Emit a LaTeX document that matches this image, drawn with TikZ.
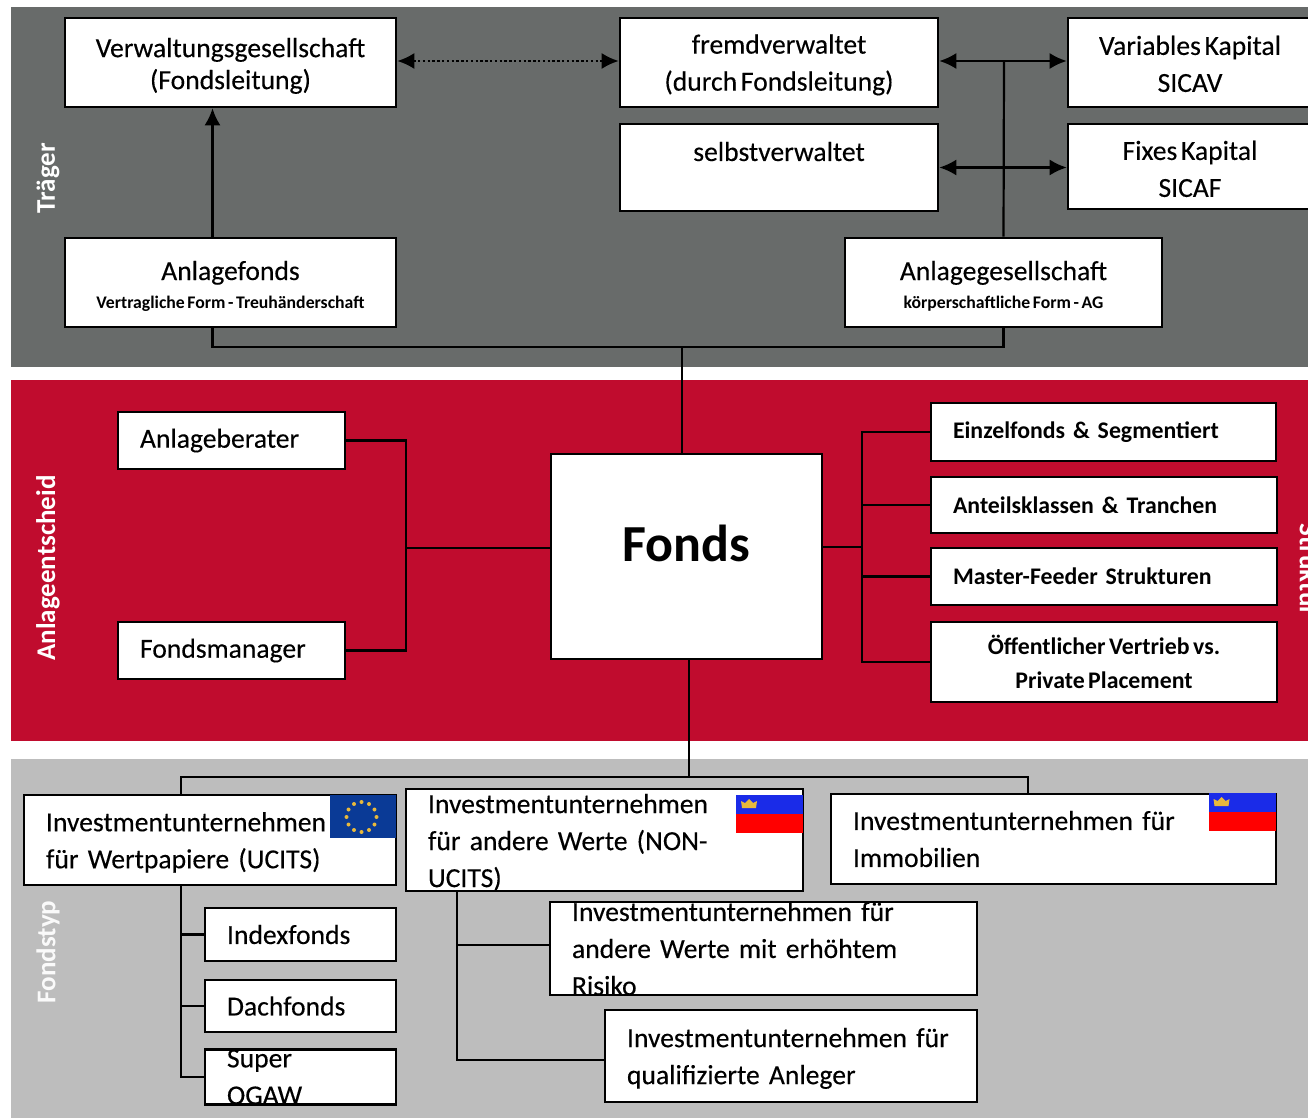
\documentclass[tikz,border=0pt]{standalone}
\usepackage{fontspec}
\setmainfont[WordSpace=0.65]{Carlito}
\newfontfamily\boxfont[WordSpace=0.6,FakeBold=0.25]{Carlito}
\usetikzlibrary{arrows.meta}
\definecolor{traegergrey}{HTML}{686B6A}
\definecolor{anlagered}{HTML}{C00C2E}
\definecolor{fondsgrey}{HTML}{BDBDBD}
\definecolor{eublue}{HTML}{0A3A96}
\definecolor{fluxgold}{HTML}{E8B93C}
\definecolor{liblue}{HTML}{1A2BE8}
\tikzset{
  bandlabel/.style={text=white, font=\fontsize{27}{27}\selectfont\bfseries},
  boxnode/.style={draw=black, fill=white, line width=2.6pt, inner sep=0pt, align=center, font=\boxfont\fontsize{27.6}{37}\selectfont},
  textleft/.style={align=left, inner xsep=22pt},
  boldbox/.style={font=\rmfamily\fontsize{23.8}{34}\selectfont\bfseries},
  link/.style={line width=2.2pt, black},
  twoway/.style={link, {Latex[length=17pt,width=16pt]}-{Latex[length=17pt,width=16pt]}},
  oneway/.style={link, -{Latex[length=17pt,width=16pt]}},
  dotlink/.style={twoway, dash pattern=on 2.4pt off 2.4pt}
}
\newcommand{\subline}[1]{{\rmfamily\fontsize{17.7}{28}\selectfont\bfseries #1}}
\newcommand{\pushdown}[1]{\rule{0pt}{#1pt}}
\newcommand{\liflag}[1]{%
  \begin{scope}[shift={(#1)}]
    \fill [liblue] (0,0) rectangle (67,19);
    \fill [red] (0,19) rectangle (67,38);
    \fill [fluxgold] (6,13) -- (5,6) -- (9,8) -- (13,4) -- (17,8) -- (21,6) -- (20,13) -- cycle;
  \end{scope}}
\begin{document}
\begin{tikzpicture}[x=1pt,y=-1pt]
  \useasboundingbox (0,0) rectangle (1308,1118);
  \clip (0,0) rectangle (1308,1118);

  % Background bands
  \fill [traegergrey] (11,7) rectangle (1308,367);
  \fill [anlagered] (11,380) rectangle (1308,741);
  \fill [fondsgrey] (11,759) rectangle (1308,1118);

  % Band labels
  \node [bandlabel, rotate=90] (traeger) at (48,178) {Träger};
  \node [bandlabel, rotate=90] (entscheid) at (48,568) {Anlageentscheid};
  \node [bandlabel, rotate=90, text=white!92!fondsgrey] (fondstyp) at (48,952) {Fondstyp};
  \node [bandlabel, rotate=-90, anchor=south] (struktur) at (1296,570) {Struktur};

  % Boxes of the top band
  \node [boxnode, minimum width=331pt, minimum height=89pt] (verwaltung) at (230.5,62.5) {\pushdown{26}Verwaltungsgesellschaft\\[-5pt](Fondsleitung)};
  \node [boxnode, minimum width=318pt, minimum height=89pt] (fremd) at (779,62.5) {\pushdown{24}fremdverwaltet\\(durch Fondsleitung)};
  \node [boxnode, minimum width=244pt, minimum height=89pt] (variables) at (1190,62.5) {\pushdown{22}Variables Kapital\\SICAV};
  \node [boxnode, minimum width=318pt, minimum height=87pt] (selbst) at (779,167.5) {\pushdown{24}selbstverwaltet\\\mbox{}};
  \node [boxnode, minimum width=244pt, minimum height=85pt] (fixes) at (1190,166.5) {\pushdown{24}Fixes Kapital\\SICAF};
  \node [boxnode, minimum width=331pt, minimum height=89pt] (anlagefonds) at (230.5,282.5) {\pushdown{26}Anlagefonds\\[-9pt]\subline{Vertragliche Form - Treuhänderschaft}};
  \node [boxnode, minimum width=317pt, minimum height=89pt] (gesellschaft) at (1003.5,282.5) {\pushdown{26}Anlagegesellschaft\\[-9pt]\subline{körperschaftliche Form - AG}};

  % Boxes of the middle band
  \node [boxnode, textleft, text width=183pt, minimum height=57pt] (berater) at (231.5,440.5) {Anlageberater};
  \node [boxnode, textleft, text width=183pt, minimum height=57pt] (manager) at (231.5,650.5) {Fondsmanager};
  \node [boxnode, minimum width=271pt, minimum height=205pt, font=\rmfamily\fontsize{52}{52}\selectfont\bfseries] (fonds) at (686.5,556.5) {Fonds\rule[-27pt]{0pt}{1pt}};
  \node [boxnode, boldbox, textleft, text width=301pt, minimum height=58pt] (einzel) at (1103.5,432) {Einzelfonds \& Segmentiert};
  \node [boxnode, boldbox, textleft, text width=302pt, minimum height=56pt] (anteil) at (1104,505) {Anteilsklassen \& Tranchen};
  \node [boxnode, boldbox, textleft, text width=302pt, minimum height=57pt] (master) at (1104,576.5) {Master-Feeder Strukturen};
  \node [boxnode, boldbox, minimum width=346pt, minimum height=80pt] (vertrieb) at (1104,662) {Öffentlicher Vertrieb vs.\\Private Placement};

  % Boxes of the bottom band
  \node [boxnode, textleft, text width=328pt, minimum height=90pt] (ucits) at (210,840) {\pushdown{24}Investmentunternehmen\\für Wertpapiere (UCITS)};
  \node [boxnode, textleft, text width=353pt, minimum height=90pt] (nonucits) at (604.5,840) {\pushdown{24}Investmentunternehmen\\für andere Werte (NON-UCITS)};
  \node [boxnode, textleft, text width=401pt, minimum height=90pt] (immobilien) at (1053.5,839) {Investmentunternehmen für\\Immobilien};
  \node [boxnode, textleft, text width=147pt, minimum height=53pt] (index) at (300.5,934.5) {Indexfonds};
  \node [boxnode, textleft, text width=147pt, minimum height=52pt] (dach) at (300.5,1006) {Dachfonds};
  \node [boxnode, textleft, text width=147pt, minimum height=52pt] (super) at (300.5,1077) {Super OGAW};
  \node [boxnode, textleft, text width=383pt, minimum height=93pt] (risiko) at (763.5,948.5) {Investmentunternehmen für\\andere Werte mit erhöhtem Risiko};
  \node [boxnode, textleft, text width=328pt, minimum height=92pt] (qualifiziert) at (791,1056) {\pushdown{24}Investmentunternehmen für\\qualifizierte Anleger};

  % Flags
  \fill [eublue] (330,795) rectangle (396,838);
  \foreach \a in {0,30,...,330}
    \fill [fluxgold] (361.5,817) ++(\a:15) circle (2);
  \liflag{736,795}
  \liflag{1208.5,793}

  % Junctions
  \coordinate (topbus) at (682,347);
  \coordinate (topbranch) at (1004,61);
  \coordinate (leftbus) at (406,548);
  \coordinate (rightbus) at (862,547);
  \coordinate (bottombus) at (689,777);
  \coordinate (ucitsbus) at (181,1006);
  \coordinate (nonucitsbus) at (457,945);

  % Connectors of the top band
  \draw [dotlink] (verwaltung.east |- topbranch) -- (fremd.west |- topbranch);
  \draw [oneway] ([xshift=-18pt]anlagefonds.north) -- ([xshift=-18pt]verwaltung.south);
  \draw [link] ([xshift=-18pt]anlagefonds.south) |- (topbus) -| (gesellschaft.south);
  \draw [link] (gesellschaft.north) -- (topbranch);
  \draw [twoway] (fremd.east |- topbranch) -- (variables.west |- topbranch);
  \draw [twoway] (selbst.east) -- (selbst.east -| fixes.west);

  % Connectors of the middle band
  \draw [link] (topbus) -- (topbus |- fonds.north);
  \draw [link] (berater.east) -| (leftbus) |- (manager.east);
  \draw [link] (leftbus) -- (leftbus -| fonds.west);
  \draw [link] (fonds.east |- rightbus) -- (rightbus);
  \draw [link] (rightbus) |- (einzel.west);
  \draw [link] (rightbus) |- (anteil.west);
  \draw [link] (rightbus) |- (master.west);
  \draw [link] (rightbus) |- (vertrieb.west);

  % Connectors of the bottom band
  \draw [link] (bottombus |- fonds.south) -- (bottombus);
  \draw [link] (bottombus) -| ([xshift=-29pt]ucits.north);
  \draw [link] (bottombus) -| (1028,794);
  \draw [link] (ucitsbus |- ucits.south) |- (super.west);
  \draw [link] (ucitsbus |- index.west) -- (index.west);
  \draw [link] (ucitsbus) -- (dach.west);
  \draw [link] (nonucitsbus |- nonucits.south) |- (qualifiziert.west |- 0,1060);
  \draw [link] (nonucitsbus) -- (nonucitsbus -| risiko.west);
\end{tikzpicture}
\end{document}
